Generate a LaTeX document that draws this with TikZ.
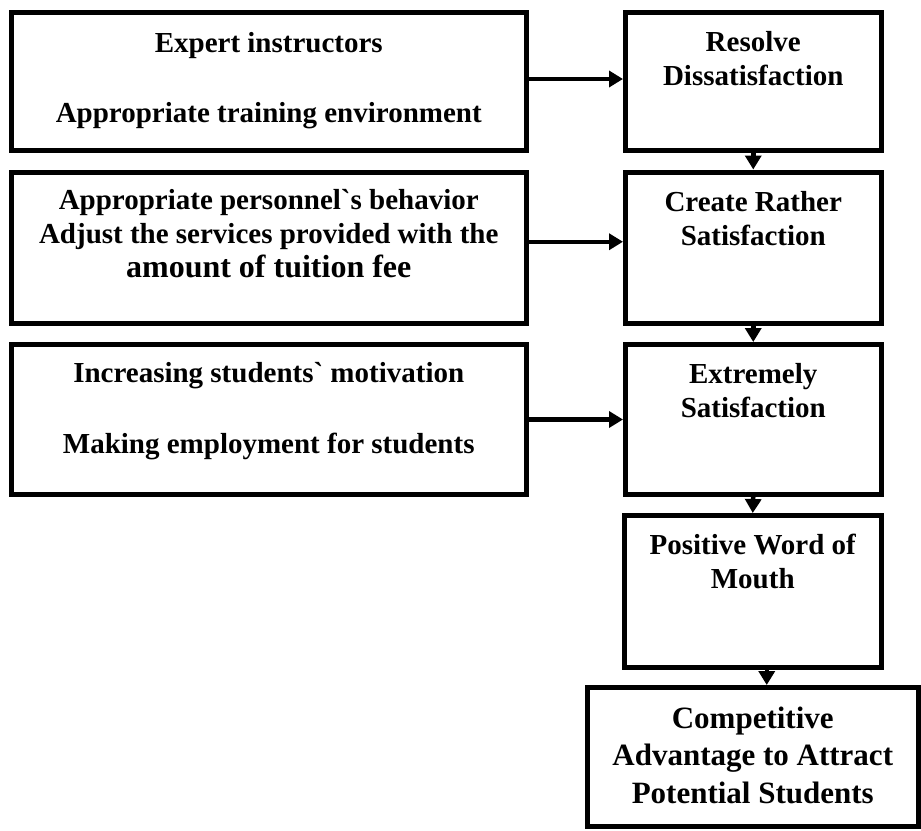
\documentclass[tikz,border=0pt]{standalone}
\usepackage{fontspec}
\setmainfont{Liberation Serif}
\usetikzlibrary{arrows.meta}

\begin{document}
\begin{tikzpicture}[x=1pt,y=-1pt,
  blk/.style={draw,line width=5pt,inner sep=0pt},
  lbox/.style={blk,minimum width=514.5pt},
  rbox/.style={blk,minimum width=255.5pt},
  txt/.style={align=center,anchor=base,inner sep=0pt,font=\bfseries\fontsize{29}{34}\selectfont},
  arr/.style={line width=4.5pt,-{Triangle[length=14pt,width=16pt]}}]
\useasboundingbox (0,0) rectangle (921,830);
% boxes on the left
\node[lbox,minimum height=138pt] (L1) at (268.75,81.5) {};
\node[lbox,minimum height=151.5pt] (L2) at (268.75,247.75) {};
\node[lbox,minimum height=150pt] (L3) at (268.75,419.5) {};
% boxes on the right
\node[rbox,minimum height=138pt] (R1) at (753.25,81.5) {};
\node[rbox,minimum height=151.5pt] (R2) at (753.25,247.75) {};
\node[rbox,minimum height=150pt] (R3) at (753.25,419.5) {};
\node[rbox,minimum height=152pt,minimum width=256.5pt] (R4) at (752.75,591.5) {};
\node[blk,minimum height=138.5pt,minimum width=330.5pt] (R5) at (752.75,756.75) {};
% texts (placed at the baseline of their last line)
\node[txt] (L1t) at (268.75,122) {Expert instructors\\[36pt]Appropriate training environment};
\node[txt] (L2t) at (268.75,277) {Appropriate personnel\textasciigrave s behavior\\Adjust the services provided with the\\{\fontsize{32}{34}\selectfont amount of tuition fee}};
\node[txt] (L3t) at (268.75,453) {Increasing students\textasciigrave{} motivation\\[37pt]Making employment for students};
\node[txt] (R1t) at (753.25,85) {Resolve\\Dissatisfaction};
\node[txt] (R2t) at (753.25,245) {Create Rather\\Satisfaction};
\node[txt] (R3t) at (753.25,417) {Extremely\\Satisfaction};
\node[txt] (R4t) at (752.75,588) {Positive Word of\\Mouth};
\node[txt,font=\bfseries\fontsize{31}{37.5}\selectfont] (R5t) at (752.75,803) {Competitive\\Advantage to Attract\\Potential Students};
% arrows
\foreach \a/\b/\dy in {L1/R1/2.5,L2/R2/6,L3/R3/0}
  \draw[arr] ([yshift=\dy pt]\a.east) -- ([yshift=\dy pt]\a.east -| \b.west);
\foreach \a/\b in {R1/R2,R2/R3,R3/R4}
  \draw[arr] (\a.south) -- (\b.north);
\draw[arr] ([xshift=14pt]R4.south) -- ([xshift=14pt]R4.south |- R5.north);
\end{tikzpicture}
\end{document}
